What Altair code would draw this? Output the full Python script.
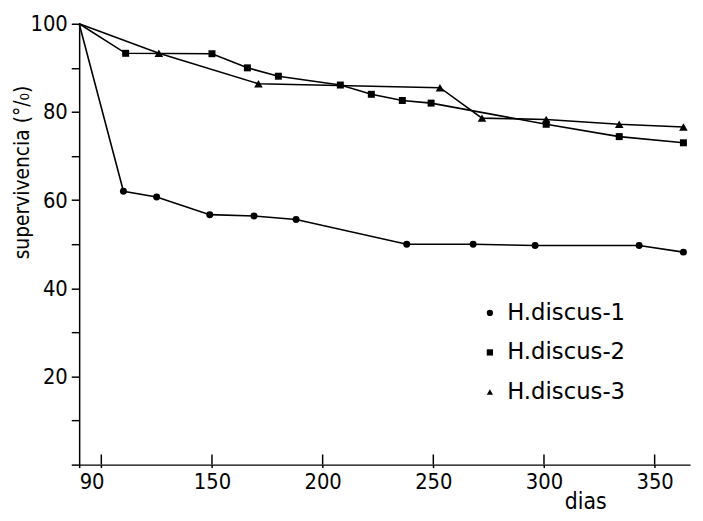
import altair as alt
import pandas as pd

series_names = ["H.discus-1", "H.discus-2", "H.discus-3"]
days1 = [90, 110, 125, 149, 169, 188, 238, 268, 296, 343, 363]
vals1 = [100, 62.0, 60.7, 56.7, 56.4, 55.6, 50.0, 50.0, 49.7, 49.7, 48.2]
days2 = [90, 111, 150, 166, 180, 208, 222, 236, 249, 301, 334, 363]
vals2 = [100, 93.3, 93.2, 90.0, 88.1, 86.1, 84.0, 82.6, 82.0, 77.2, 74.4, 73.0]
days3 = [90, 126, 171, 253, 272, 301, 334, 363]
vals3 = [100, 93.3, 86.4, 85.5, 78.6, 78.3, 77.2, 76.6]

x_ticks = [90, 100, 150, 200, 250, 300, 350]
y_ticks = [0, 10, 20, 30, 40, 50, 60, 70, 80, 90, 100]

rows = []
for name, ds, vs in zip(series_names, [days1, days2, days3], [vals1, vals2, vals3]):
    for i, (d, v) in enumerate(zip(ds, vs)):
        rows.append({"serie": name, "dias": d, "sup": v, "marker": i > 0})
for t in x_ticks[1:]:
    rows.append({"serie": "tick", "dias": t, "sup": 0.0, "marker": False})
    rows.append({"serie": "tick", "dias": t, "sup": 2.3, "marker": False})
df = pd.DataFrame(rows)

FONT = "DejaVu Sans Condensed"
H = 446

x_scale = alt.Scale(domain=[90, 366], nice=False, zero=False)
y_scale = alt.Scale(domain=[0, 100], nice=False)
y_enc = alt.Y(
    "sup:Q",
    scale=y_scale,
    axis=alt.Axis(
        values=y_ticks,
        labelExpr="(datum.value % 20 == 0 && datum.value > 0) ? datum.label : ''",
        title="supervivencia (°/₀)",
        titleX=-57,
        titleY=150,
        titleAngle=270,
        titleAlign="center",
        titleBaseline="middle",
        titleFontSize=21,
        grid=False,
    ),
)

base = alt.Chart(df)

lines = base.transform_filter("datum.serie != 'tick'").mark_line(
    color="black", strokeWidth=1.6
).encode(
    x=alt.X(
        "dias:Q",
        scale=x_scale,
        axis=alt.Axis(
            values=x_ticks,
            labelExpr="datum.value == 100 ? '' : datum.label",
            title="dias",
            titleX=512,
            titleY=44,
            titleAnchor="middle",
            titleBaseline="alphabetic",
            titleFontSize=23,
            tickSize=3,
            grid=False,
        ),
    ),
    y=y_enc,
    detail="serie:N",
)

inner_ticks = base.transform_filter("datum.serie == 'tick'").mark_line(
    color="black", strokeWidth=1.5
).encode(
    x="dias:Q",
    y="sup:Q",
    detail="dias:N",
)

points = base.transform_filter("datum.marker").mark_point(
    filled=True, color="black", opacity=1
).encode(
    x="dias:Q",
    y="sup:Q",
    size=alt.condition("datum.serie == 'H.discus-3'", alt.value(75), alt.value(50)),
    shape=alt.Shape(
        "serie:N",
        scale=alt.Scale(domain=series_names, range=["circle", "square", "triangle-up"]),
        legend=alt.Legend(
            title=None,
            orient="none",
            legendX=404,
            legendY=281,
            labelFontSize=23,
            labelFont="DejaVu Sans",
            labelColor="black",
            symbolSize=40,
            symbolFillColor="black",
            symbolStrokeColor="black",
            symbolStrokeWidth=0,
            rowPadding=16,
            labelOffset=6,
        ),
    ),
)

chart = (
    alt.layer(lines, inner_ticks, points)
    .properties(
        width=618,
        height=H,
        autosize=alt.AutoSizeParams(type="none"),
        padding={"left": 72, "top": 13, "right": 5, "bottom": 46},
        background="white",
    )
    .configure_view(stroke=None)
    .configure_axis(
        domainColor="black",
        domainWidth=1.5,
        tickColor="black",
        tickWidth=1.5,
        tickSize=8,
        labelFont=FONT,
        labelFontSize=22,
        labelColor="black",
        labelPadding=4,
        titleFont=FONT,
        titleFontWeight="normal",
        titleColor="black",
    )
)

chart.save("out.html", embed_options={"renderer": "svg", "actions": False})
